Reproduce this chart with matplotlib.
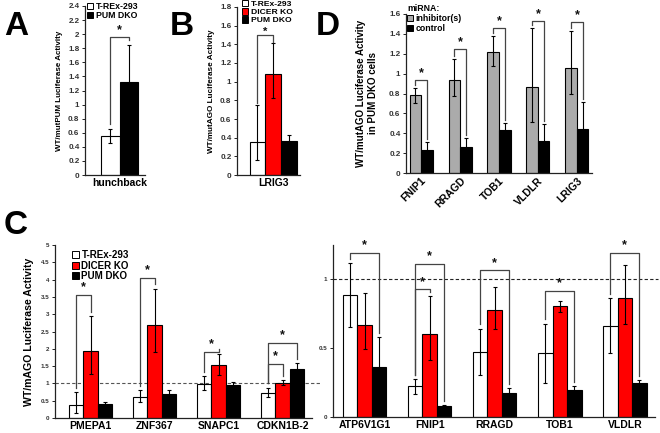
import matplotlib
matplotlib.use("Agg")
import matplotlib.pyplot as plt
from matplotlib.patches import Patch
import numpy as np

plt.rcParams["font.family"] = ["Liberation Sans", "DejaVu Sans"]
plt.rcParams["font.weight"] = "bold"

W, H = 660, 433
RED = "#ff0000"
GREY = "#ababab"
TICK_GREY = "#333333"
BRACKET = "#444444"

# ---------------- panel A ----------------
a_cats = ["hunchback"]
a_wt = [0.55]
a_wt_lo = [0.46]
a_wt_hi = [0.65]
a_dko = [1.32]
a_dko_lo = [0.80]
a_dko_hi = [1.84]
a_sig = [(0, 1, 1.96)]  # (bar i, bar j, bracket height)

# ---------------- panel B ----------------
b_cats = ["LRIG3"]
b_wt = [0.35]
b_wt_lo = [0.16]
b_wt_hi = [0.75]
b_dicer = [1.08]
b_dicer_lo = [0.82]
b_dicer_hi = [1.41]
b_dko = [0.36]
b_dko_lo = [0.29]
b_dko_hi = [0.43]
b_sig = [(0, 1, 1.50)]

# ---------------- panel D ----------------
d_cats = ["FNIP1", "RRAGD", "TOB1", "VLDLR", "LRIG3"]
d_inh = [0.78, 0.94, 1.22, 0.87, 1.06]
d_inh_lo = [0.70, 0.77, 1.08, 0.51, 0.79]
d_inh_hi = [0.86, 1.15, 1.38, 1.46, 1.43]
d_ctl = [0.23, 0.26, 0.43, 0.32, 0.44]
d_ctl_lo = [0.15, 0.17, 0.36, 0.15, 0.17]
d_ctl_hi = [0.31, 0.35, 0.50, 0.49, 0.71]
d_sig = [0.935, 1.245, 1.46, 1.53, 1.52]

# ---------------- panel C (left) ----------------
c1_cats = ["PMEPA1", "ZNF367", "SNAPC1", "CDKN1B-2"]
c1_wt = [0.37, 0.61, 0.97, 0.73]
c1_wt_lo = [0.15, 0.46, 0.80, 0.61]
c1_wt_hi = [0.75, 0.80, 1.20, 0.88]
c1_dicer = [1.94, 2.68, 1.52, 1.02]
c1_dicer_lo = [1.26, 1.91, 1.23, 0.94]
c1_dicer_hi = [2.95, 3.74, 1.86, 1.09]
c1_dko = [0.41, 0.70, 0.94, 1.43]
c1_dko_lo = [0.37, 0.60, 0.84, 1.27]
c1_dko_hi = [0.45, 0.80, 1.04, 1.59]
# (group, bar i, bar j, bracket height)
c1_sig = [(0, 0, 1, 3.55), (1, 0, 1, 4.05), (2, 0, 1, 1.91),
          (3, 0, 1, 1.57), (3, 0, 2, 2.17)]

# ---------------- panel C (right) ----------------
c2_cats = ["ATP6V1G1", "FNIP1", "RRAGD", "TOB1", "VLDLR"]
c2_wt = [0.89, 0.225, 0.473, 0.466, 0.664]
c2_wt_lo = [0.652, 0.169, 0.302, 0.249, 0.466]
c2_wt_hi = [1.118, 0.278, 0.643, 0.679, 0.865]
c2_dicer = [0.669, 0.604, 0.780, 0.804, 0.865]
c2_dicer_lo = [0.495, 0.415, 0.640, 0.766, 0.676]
c2_dicer_hi = [0.903, 0.877, 0.944, 0.843, 1.106]
c2_dko = [0.367, 0.080, 0.174, 0.193, 0.249]
c2_dko_lo = [0.154, 0.071, 0.140, 0.161, 0.227]
c2_dko_hi = [0.580, 0.089, 0.208, 0.225, 0.271]
c2_sig = [(0, 0, 2, 1.193), (1, 0, 1, 0.928), (1, 0, 2, 1.111),
          (2, 0, 2, 1.065), (3, 0, 2, 0.915), (4, 0, 2, 1.193)]


def make_ax(fig, left, right, top, bottom):
    return fig.add_axes([left / W, 1 - bottom / H, (right - left) / W,
                         (bottom - top) / H])


def style_ax(ax, ylim, yticks, ticksize):
    ax.set_ylim(*ylim)
    ax.set_yticks(yticks)
    ax.set_yticklabels([("%g" % t) for t in yticks], fontsize=ticksize,
                       color=TICK_GREY, fontweight="bold")
    for s in ["top", "right"]:
        ax.spines[s].set_visible(False)
    for s in ["left", "bottom"]:
        ax.spines[s].set_color("#222222")
        ax.spines[s].set_linewidth(0.9)
    ax.tick_params(axis="y", length=2.5, width=0.7, pad=1.5, color="#222222")
    ax.tick_params(axis="x", length=0, pad=2)


def draw_bars(ax, xs, vals, lo, hi, color, width):
    vals = np.asarray(vals)
    ax.bar(xs, vals, width, color=color, edgecolor="black", linewidth=0.8,
           zorder=2)
    ax.errorbar(xs, vals, yerr=[vals - np.asarray(lo), np.asarray(hi) - vals],
                fmt="none", ecolor="black", elinewidth=0.8, capsize=1.3,
                capthick=0.8, zorder=3)


def bracket(ax, x1, x2, y1, y2, top, gap, star_off, starsize=9):
    ax.plot([x1, x1, x2, x2], [y1 + gap, top, top, y2 + gap],
            color=BRACKET, lw=0.9, zorder=4, clip_on=False)
    ax.text((x1 + x2) / 2, top + star_off, "*", ha="center", va="center",
            fontsize=starsize, fontweight="bold", color="#111111")


def legend(ax, labels, colors, anchor, size, title=None, spacing=0.05):
    handles = [Patch(facecolor=c, edgecolor="black", linewidth=0.7)
               for c in colors]
    leg = ax.legend(handles, labels, loc="upper left", bbox_to_anchor=anchor,
                    frameon=False, fontsize=size, handlelength=0.75,
                    handleheight=0.75, handletextpad=0.25,
                    labelspacing=spacing, borderpad=0, borderaxespad=0,
                    title=title, title_fontsize=size, alignment="left")
    for t in leg.get_texts():
        t.set_fontweight("bold")
    if title:
        leg.get_title().set_fontweight("bold")
    return leg


fig = plt.figure(figsize=(W / 100, H / 100), dpi=100)

# ---------- A ----------
ax = make_ax(fig, 85, 145, 6, 175)
xa = np.array([-0.5, 0.5])
draw_bars(ax, xa[:1], a_wt, a_wt_lo, a_wt_hi, "white", 1.0)
draw_bars(ax, xa[1:], a_dko, a_dko_lo, a_dko_hi, "black", 1.0)
ax.set_xlim(-1.865, 1.378)
style_ax(ax, (0, 2.4), np.arange(0, 2.41, 0.2).round(1), 5.8)
ax.set_xticks([0])
ax.set_xticklabels(a_cats, fontsize=7.5, fontweight="bold")
ax.set_ylabel("WT/mutPUM Luciferase Activity", fontsize=5.8,
              fontweight="bold", labelpad=4)
tops = [a_wt_hi[0], a_dko_hi[0]]
for i, j, h in a_sig:
    bracket(ax, xa[i], xa[j], tops[i], tops[j], h, 0.08, 0.09)
legend(ax, ["T-REx-293", "PUM DKO"], ["white", "black"],
       (0.03, 1.025), 6.3)

# ---------- B ----------
ax = make_ax(fig, 237, 300, 7, 175)
xb = np.array([-1.0, 0.0, 1.0])
draw_bars(ax, xb[:1], b_wt, b_wt_lo, b_wt_hi, "white", 1.0)
draw_bars(ax, xb[1:2], b_dicer, b_dicer_lo, b_dicer_hi, RED, 1.0)
draw_bars(ax, xb[2:], b_dko, b_dko_lo, b_dko_hi, "black", 1.0)
ax.set_xlim(-2.30, 1.72)
style_ax(ax, (0, 1.8), np.arange(0, 1.81, 0.2).round(1), 5.8)
ax.set_xticks([0])
ax.set_xticklabels(b_cats, fontsize=7.5, fontweight="bold")
ax.set_ylabel("WT/mutAGO Luciferase Activity", fontsize=5.9,
              fontweight="bold", labelpad=4)
tops = [b_wt_hi[0], b_dicer_hi[0], b_dko_hi[0]]
for i, j, h in b_sig:
    bracket(ax, xb[i], xb[j], tops[i], tops[j], h, 0.02, 0.03, starsize=8)
legend(ax, ["T-REx-293", "DICER KO", "PUM DKO"], ["white", RED, "black"],
       (0.08, 1.04), 6.1, spacing=0.0)

# ---------- D ----------
ax = make_ax(fig, 406, 592, 14, 173)
wd = 0.295
xd = np.arange(len(d_cats))
draw_bars(ax, xd - wd / 2, d_inh, d_inh_lo, d_inh_hi, GREY, wd)
draw_bars(ax, xd + wd / 2, d_ctl, d_ctl_lo, d_ctl_hi, "black", wd)
ax.set_xlim(-0.385, 4.385)
style_ax(ax, (0, 1.6), np.arange(0, 1.61, 0.2).round(1), 5.8)
ax.set_xticks(xd)
ax.set_xticklabels(d_cats, fontsize=7.5, fontweight="bold", rotation=45,
                   ha="right", rotation_mode="anchor")
ax.set_ylabel("WT/mutAGO Luciferase Activity\nin PUM DKO cells",
              fontsize=7.0, fontweight="bold", labelpad=8)
for k, h in enumerate(d_sig):
    bracket(ax, xd[k] - wd / 2, xd[k] + wd / 2, d_inh_hi[k], d_ctl_hi[k],
            h, 0.03, 0.07)
legend(ax, ["inhibitor(s)", "control"], [GREY, "black"], (0.005, 1.065), 6.3,
       title="miRNA:", spacing=0.15)

# ---------- C left ----------
ax = make_ax(fig, 55, 312, 245, 418)
wc = 0.227
xc = np.arange(len(c1_cats))
offs = [-wc, 0, wc]
draw_bars(ax, xc - wc, c1_wt, c1_wt_lo, c1_wt_hi, "white", wc)
draw_bars(ax, xc, c1_dicer, c1_dicer_lo, c1_dicer_hi, RED, wc)
draw_bars(ax, xc + wc, c1_dko, c1_dko_lo, c1_dko_hi, "black", wc)
ax.set_xlim(-0.555, 3.46)
style_ax(ax, (0, 5), np.arange(0, 5.01, 0.5).round(1), 4.5)
ax.axhline(1, xmin=0, xmax=1.035, color="#555555", lw=0.8, ls=(0, (3, 2)),
           zorder=1, clip_on=False)
ax.set_xticks(xc)
ax.set_xticklabels(c1_cats, fontsize=7.5, fontweight="bold")
ax.set_ylabel("WT/mAGO Luciferase Activity", fontsize=7.6,
              fontweight="bold", labelpad=5)
his = [c1_wt_hi, c1_dicer_hi, c1_dko_hi]
for g, i, j, h in c1_sig:
    bracket(ax, xc[g] + offs[i], xc[g] + offs[j], his[i][g], his[j][g],
            h, 0.12, 0.22)
legend(ax, ["T-REx-293", "DICER KO", "PUM DKO"], ["white", RED, "black"],
       (0.065, 0.97), 7)

# ---------- C right ----------
ax = make_ax(fig, 333, 655, 245, 417)
wc2 = 0.223
xc2 = np.arange(len(c2_cats))
offs2 = [-wc2, 0, wc2]
draw_bars(ax, xc2 - wc2, c2_wt, c2_wt_lo, c2_wt_hi, "white", wc2)
draw_bars(ax, xc2, c2_dicer, c2_dicer_lo, c2_dicer_hi, RED, wc2)
draw_bars(ax, xc2 + wc2, c2_dko, c2_dko_lo, c2_dko_hi, "black", wc2)
ax.set_xlim(-0.488, 4.465)
style_ax(ax, (0, 1.25), [0, 0.5, 1], 4.5)
ax.axhline(1, xmin=0, xmax=1.01, color="#222222", lw=0.8, ls=(0, (3, 2)),
           zorder=1, clip_on=False)
ax.set_xticks(xc2)
ax.set_xticklabels(c2_cats, fontsize=7.5, fontweight="bold")
his2 = [c2_wt_hi, c2_dicer_hi, c2_dko_hi]
for g, i, j, h in c2_sig:
    bracket(ax, xc2[g] + offs2[i], xc2[g] + offs2[j], his2[i][g],
            his2[j][g], h, 0.03, 0.055)

# panel letters
for letter, px, py in [("A", 4, 35), ("B", 170, 35), ("D", 316, 35),
                       ("C", 4, 234)]:
    fig.text(px / W, 1 - py / H, letter, fontsize=24, fontweight="bold",
             ha="left", va="baseline")

fig.savefig("out.png", dpi=100)
